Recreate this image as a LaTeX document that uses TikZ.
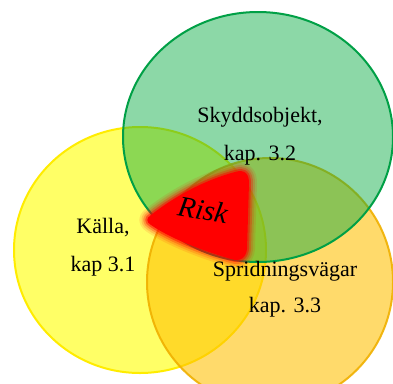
\documentclass[tikz,border=0pt]{standalone}
\usepackage{fontspec}
\setmainfont{Liberation Serif}
\definecolor{ygold}{RGB}{255,255,0}
\definecolor{yedge}{RGB}{255,236,0}
\definecolor{ofill}{RGB}{255,192,0}
\definecolor{oedge}{RGB}{240,176,0}
\definecolor{gfill}{RGB}{0,169,62}
\definecolor{gedge}{RGB}{0,160,70}
\definecolor{rred}{RGB}{255,0,0}
\tikzset{
  lbl/.style={font=\fontsize{22}{24}\selectfont, text=black, align=center, inner sep=0pt},
  setyellow/.style={fill=ygold, fill opacity=0.6, draw=yedge, line width=2pt},
  setorange/.style={fill=ofill, fill opacity=0.58, draw=oedge, draw opacity=0.9, line width=2pt},
  setgreen/.style={fill=gfill, fill opacity=0.45, draw=gedge, line width=2pt},
}
\begin{document}
\begin{tikzpicture}[x=1pt,y=-1pt]
\useasboundingbox (0,0) rectangle (393,383);
\clip (0,0) rectangle (393,383);
\fill[white] (0,0) rectangle (393,383);
% sets
\draw[setyellow] (140,250) ellipse [x radius=126, y radius=123];
\draw[setorange] (270,282) ellipse [x radius=123, y radius=124];
\draw[setgreen] (258,137) ellipse [x radius=135, y radius=125];
% risk shape with soft edge
\def\riskpath{(151,215) .. controls (175,196) and (205,180) .. (235,172) .. controls (245,169) and (249,174) .. (249,183) -- (247,249) .. controls (246,258) and (240,262) .. (231,259) .. controls (200,250) and (170,238) .. (151,225) .. controls (146,222) and (146,218) .. (151,215) -- cycle}
\foreach \w/\o in {16/0.1,12/0.15,8/0.25,4/0.45}{
  \draw[rred, opacity=\o, line width=\w pt, line join=round] \riskpath;
}
\fill[rred] \riskpath;
% labels
\node[lbl] (sky) at (260,117) {Skyddsobjekt,};
\node[lbl] (sky2) at (260,155) {kap. 3.2};
\node[lbl] (kal) at (103,228) {Källa,};
\node[lbl] (kal2) at (103,266) {kap 3.1};
\node[lbl] (spr) at (285,271) {Spridningsvägar};
\node[lbl] (spr2) at (285,307) {kap. 3.3};
\node[font=\fontsize{29}{31}\selectfont\itshape, rotate=-10, inner sep=0pt] (risk) at (203,210) {Risk};
\end{tikzpicture}
\end{document}
